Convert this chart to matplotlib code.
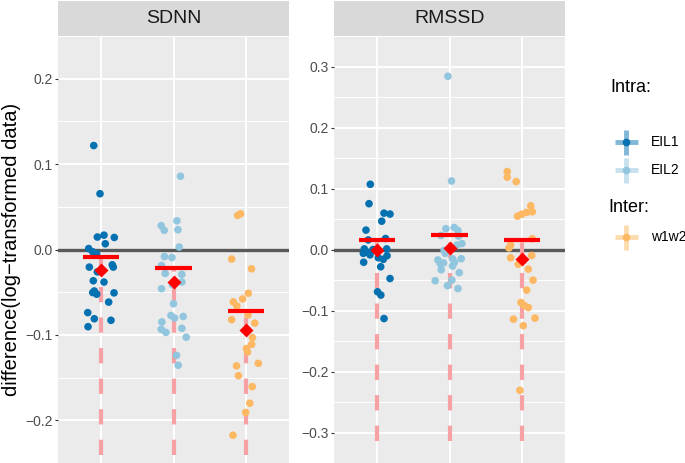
import numpy as np
import matplotlib
matplotlib.use("Agg")
import matplotlib.pyplot as plt

plt.rcParams['font.family'] = ['Liberation Sans', 'DejaVu Sans']
plt.rcParams['lines.scale_dashes'] = False

# groups and colours
groups = ['EIL1', 'EIL2', 'w1w2']
colors = ['#0571B0', '#92C5DE', '#FDB863']

# SDNN panel: jitter offsets (category units) and values
sdnn_eil1_jit = [-0.105, -0.018, -0.055, 0.037, 0.180, 0.055, -0.175, -0.119, -0.064, -0.166, -0.055, 0.152,
                 0.166, -0.111, 0.037, -0.097, -0.119, -0.064, 0.176, 0.102, -0.188, -0.097, 0.134, -0.184]
sdnn_eil1 = [0.1217, 0.0653, 0.0146, 0.0168, 0.0141, 0.0067, 0.0011, -0.0027, -0.0049, -0.0206, -0.0262, -0.0179,
             -0.0206, -0.0366, -0.0381, -0.0486, -0.0504, -0.0523, -0.0508, -0.0616, -0.0739, -0.0811, -0.0829, -0.0904]
sdnn_eil2_jit = [0.097, -0.170, -0.129, 0.047, 0.061, 0.079, -0.125, -0.022, -0.166, -0.115, 0.116, -0.014, 0.116,
                 -0.166, 0.0, -0.161, -0.036, 0.014, 0.134, 0.116, -0.170, -0.105, 0.176, 0.042, 0.065]
sdnn_eil2 = [0.0858, 0.028, 0.0224, 0.0336, 0.0231, 0.0029, -0.0083, -0.0094, -0.0187, -0.028, -0.0291, -0.0411,
             -0.0381, -0.0459, -0.0635, -0.0848, -0.0773, -0.0803, -0.0784, -0.0923, -0.0934, -0.0971, -0.1027,
             -0.124, -0.1355]
sdnn_w1w2_jit = [-0.111, -0.072, -0.194, 0.080, 0.036, -0.042, -0.172, -0.123, 0.032, -0.194, 0.126, 0.094, 0.083,
                 0.011, 0.025, 0.175, -0.127, -0.100, 0.091, 0.057, 0.0, -0.176]
sdnn_w1w2 = [0.0399, 0.0418, -0.0112, -0.0226, -0.0512, -0.0579, -0.0613, -0.0661, -0.0766, -0.0822, -0.0862,
             -0.1032, -0.1111, -0.1158, -0.1201, -0.1333, -0.1363, -0.1478, -0.1606, -0.18, -0.1908, -0.2175]
sdnn_bar = [-0.0086, -0.0217, -0.0721]
sdnn_diamond = [-0.0243, -0.0385, -0.0945]

# RMSSD panel
rmssd_eil1_jit = [-0.097, -0.115, 0.093, 0.176, 0.061, -0.157, -0.125, 0.114, -0.180, -0.147, -0.194, -0.101,
                  -0.060, 0.130, 0.014, 0.083, 0.135, -0.189, 0.047, 0.176, 0.003, 0.049, 0.093]
rmssd_eil1 = [0.1069, 0.0751, 0.0596, 0.0581, 0.0464, 0.0318, 0.0157, 0.018, 0.001, -0.004, -0.0063, -0.0088,
              0.0, 0.001, -0.0136, -0.0161, -0.0102, -0.0209, -0.0283, -0.0476, -0.0693, -0.0747, -0.1132]
rmssd_eil2_jit = [-0.022, 0.028, -0.050, 0.065, 0.117, -0.119, 0.125, 0.172, 0.103, -0.074, -0.060, -0.161,
                  -0.129, -0.083, -0.115, 0.042, 0.069, 0.042, 0.162, 0.135, -0.198, 0.033, -0.028, 0.117]
rmssd_eil2 = [0.284, 0.1123, 0.0341, 0.0361, 0.0312, 0.023, 0.022, 0.0098, 0.0073, -0.0015, -0.0063, -0.0171,
              -0.0234, -0.022, -0.0332, -0.0151, -0.021, -0.0271, -0.0151, -0.038, -0.0512, -0.0502, -0.0593, -0.064]
rmssd_w1w2_jit = [-0.200, -0.200, -0.076, 0.125, 0.147, 0.067, 0.0, -0.058, 0.146, -0.153, -0.176, -0.153,
                  0.139, -0.047, 0.092, 0.157, 0.069, -0.010, 0.036, 0.092, -0.114, 0.184, 0.022, -0.024]
rmssd_w1w2 = [0.1278, 0.1186, 0.1113, 0.0717, 0.0619, 0.0608, 0.0578, 0.0546, 0.0176, 0.0073, 0.0025, -0.0136,
              -0.0098, -0.0242, -0.0322, -0.0502, -0.0666, -0.0868, -0.0918, -0.0952, -0.1142, -0.1125, -0.1248,
              -0.2309]
rmssd_bar = [0.016, 0.024, 0.0157]
rmssd_diamond = [0.0, 0.0025, -0.015]

panels = [
    ('SDNN', [(sdnn_eil1_jit, sdnn_eil1), (sdnn_eil2_jit, sdnn_eil2), (sdnn_w1w2_jit, sdnn_w1w2)],
     sdnn_bar, sdnn_diamond, (-0.2407, 0.239), [-0.2, -0.1, 0.0, 0.1, 0.2]),
    ('RMSSD', [(rmssd_eil1_jit, rmssd_eil1), (rmssd_eil2_jit, rmssd_eil2), (rmssd_w1w2_jit, rmssd_w1w2)],
     rmssd_bar, rmssd_diamond, (-0.314, 0.312), [-0.3, -0.2, -0.1, 0.0, 0.1, 0.2, 0.3]),
]

W, H = 685, 463
fig = plt.figure(figsize=(W / 100, H / 100), dpi=100)

#panel positions in pixels (left, width)
panel_px = [(58, 231), (334, 231)]
top_px, strip_px = 36, 35

for k, (name, pts, bars, diamonds, ylim, yticks) in enumerate(panels):
    left, width = panel_px[k]
    ax = fig.add_axes([left / W, 0, width / W, (H - top_px) / H])
    ax.set_facecolor('#EBEBEB')
    for s in ax.spines.values():
        s.set_visible(False)
    ax.set_xlim(0.4, 3.6)
    ax.set_ylim(*ylim)
    ax.set_xticks([1, 2, 3])
    ax.set_yticks(yticks)
    ax.set_yticks([t + 0.05 for t in yticks[:-1]] + [yticks[0] - 0.05, yticks[-1] + 0.05], minor=True)
    ax.set_yticklabels([('%.1f' % t).replace('-', '\u2212') for t in yticks])
    ax.grid(which='major', color='white', lw=1.4)
    ax.grid(which='minor', axis='y', color='white', lw=0.7)
    ax.set_axisbelow(True)
    ax.tick_params(axis='x', length=0, labelbottom=False)
    ax.tick_params(axis='y', which='major', length=2.5, width=0.8, color='#333333',
                   labelsize=10, labelcolor='#4D4D4D', pad=1.5)
    ax.tick_params(axis='y', which='minor', length=0)

    # zero reference line
    ax.axhline(0, color='#595959', lw=2.4, zorder=1)

    for i, (jit, vals) in enumerate(pts):
        cx = i + 1
        # dashed line from the bottom up to the bar
        ax.plot([cx, cx], [ylim[0], bars[i]], color='#F7A1A4', lw=3, ls=(0, (11, 11)),
                solid_capstyle='butt', dash_capstyle='butt', zorder=2)
        ax.scatter(cx + np.array(jit), vals, s=30, color=colors[i], edgecolors='none', zorder=3)
        ax.plot([cx - 0.25, cx + 0.25], [bars[i], bars[i]], color='#FF0000', lw=3, zorder=4,
                solid_capstyle='butt')
        ax.plot([cx], [diamonds[i]], marker='D', color='#FF0000', ms=7, mec='none', zorder=5)

    if k == 0:
        ax.set_ylabel('difference(log\u2212transformed data)', fontsize=14.5, color='black', labelpad=3)

    # facet strip
    sax = fig.add_axes([left / W, (H - top_px) / H, width / W, strip_px / H])
    sax.set_facecolor('#D9D9D9')
    sax.set_xticks([])
    sax.set_yticks([])
    for s in sax.spines.values():
        s.set_visible(False)
    sax.text(0.5, 0.5, name, ha='center', va='center', fontsize=14, color='#1A1A1A',
             transform=sax.transAxes)

# legend drawn in pixel coordinates
lax = fig.add_axes([0, 0, 1, 1])
lax.set_xlim(0, W)
lax.set_ylim(H, 0)
lax.axis('off')
lax.patch.set_alpha(0)

def key(y, c):
    lax.plot([615, 638], [y, y], color=c, lw=3.5, alpha=0.5, solid_capstyle='butt')
    lax.plot([626.5, 626.5], [y - 12.5, y + 12.5], color=c, lw=3.5, alpha=0.5, solid_capstyle='butt')
    lax.plot([626.5], [y], marker='o', color=c, ms=5.5, mec='none')

lax.text(610, 88, 'Intra:', fontsize=13, va='center', ha='left')
key(142, colors[0])
lax.text(651, 142, groups[0], fontsize=10, va='center', ha='left')
key(170, colors[1])
lax.text(651, 170, groups[1], fontsize=10, va='center', ha='left')
lax.text(608, 207, 'Inter:', fontsize=13, va='center', ha='left')
key(237, colors[2])
lax.text(651, 237, groups[2], fontsize=10, va='center', ha='left')

fig.savefig('out.png', dpi=100)
